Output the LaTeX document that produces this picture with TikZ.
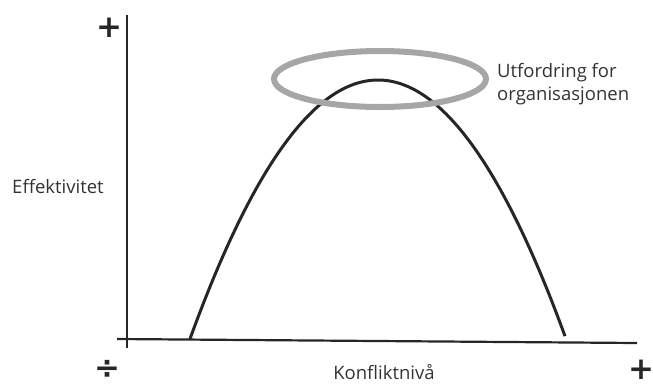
\documentclass[tikz,border=0pt]{standalone}
\usepackage{fontspec}
\setmainfont{Open Sans}
\newfontfamily\symfont{DejaVu Sans}
\begin{document}
\begin{tikzpicture}[x=1pt,y=-1pt,
  lbl/.style={inner sep=0pt, font=\fontsize{18.5}{23}\selectfont, text=black!80},
  sym/.style={inner sep=0pt, anchor=base, text height=0.75em, text depth=0pt, font=\symfont\bfseries\fontsize{31}{31}\selectfont, text=black!85},
  axis/.style={line width=2.2pt, black!85},
  curve/.style={line width=3pt, black!85},
  halo/.style={line width=6pt, gray!70}]
\useasboundingbox (0,0) rectangle (653,386);
\coordinate (ytop) at (127,15);
\coordinate (ybot) at (127,348);
\coordinate (xl) at (117,339);
\coordinate (xr) at (637,343);
\draw[axis] (ytop) -- (ybot);
\draw[axis] (xl) -- (xr);
\draw[curve, domain=190:565, samples=80, smooth] plot (\x, {80 + 0.00733*(\x-378)*(\x-378)});
\draw[halo] (380,79) ellipse [x radius=106, y radius=28];
\node[sym] (plustop) at (109,37) {+};
\node[sym] (plusbr) at (641,379) {+};
\node[sym] (minus) at (107,378) {÷};
\node[lbl] (eff) at (58,187) {Effektivitet};
\node[lbl] (konf) at (384,372) {Konfliktnivå};
\node[lbl, align=left, anchor=west] (utf) at (497,84) {Utfordring for\\organisasjonen};
\end{tikzpicture}
\end{document}
